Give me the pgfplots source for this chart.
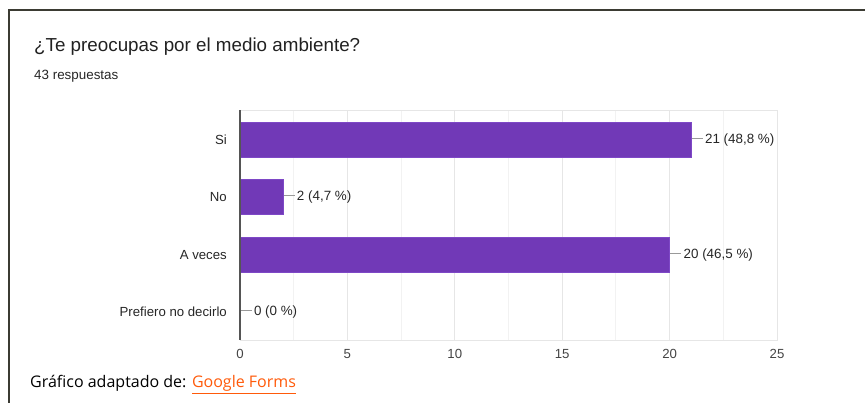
\documentclass[border=0pt]{standalone}
\usepackage{pgfplots}
\pgfplotsset{compat=1.18}
\usepackage{pgfplotstable}
\usepackage{fontspec}
\setmainfont{Liberation Sans}
\newfontfamily\footfont{Open Sans}
\definecolor{barpurple}{HTML}{7139B7}
\definecolor{baredge}{HTML}{7E48C6}
\definecolor{framecol}{HTML}{3B3B33}
\definecolor{gridmajor}{HTML}{E6E6E6}
\definecolor{gridminor}{HTML}{F2F2F2}
\definecolor{axisdark}{HTML}{555555}
\definecolor{ticktext}{HTML}{444444}
\definecolor{connector}{HTML}{999999}
\definecolor{linkorange}{HTML}{FF5A0A}
\pgfplotstableread{
y x label
0 21 {21 (48,8 \%)}
1 2 {2 (4,7 \%)}
2 20 {20 (46,5 \%)}
3 0 {0 (0 \%)}
}\datatable
\begin{document}
\begin{tikzpicture}
\path[use as bounding box] (0pt,0pt) rectangle (865pt,403pt);
\draw[color=framecol, line width=1.4pt] (9pt,0pt) -- (9pt,393pt) -- (866pt,393pt);
\node[anchor=base west, inner sep=0pt, font=\fontsize{18.8}{22}\selectfont, text=black!87] at (34pt,351pt) {¿Te preocupas por el medio ambiente?};
\node[anchor=base west, inner sep=0pt, font=\fontsize{13.4}{16}\selectfont, text=black!85] at (34pt,323pt) {43 respuestas};
\node[anchor=base west, inner sep=0pt, font=\footfont\fontsize{16}{18}\selectfont] at (30pt,15pt) {Gráfico adaptado de: \textcolor{linkorange}{\setlength{\fboxsep}{0pt}\underline{Google Forms}}};
\begin{axis}[
  at={(240pt,63pt)}, anchor=south west, scale only axis,
  width=537pt, height=230pt,
  xbar, bar width=35pt,
  xmin=0, xmax=25, ymin=-0.52, ymax=3.49, y dir=reverse,
  ytick={0,1,2,3}, yticklabels={Si,No,A veces,Prefiero no decirlo},
  xtick={0,5,...,25}, minor xtick={2.5,7.5,...,22.5},
  xmajorgrids, xminorgrids,
  major grid style={draw=gridmajor, line width=0.9pt},
  minor grid style={draw=gridminor, line width=0.9pt},
  axis line style={draw=gridmajor, line width=0.9pt},
  major tick length=0pt, minor tick length=0pt,
  /pgf/number format/assume math mode=true,
  ticklabel style={font=\fontsize{13.2}{15}\selectfont, text=ticktext},
  yticklabel style={inner sep=0pt, anchor=east, xshift=-13pt, text=black!85},
  xticklabel style={inner sep=0pt, anchor=north, yshift=-9pt},
  point meta=explicit symbolic,
  nodes near coords={\textcolor{connector}{\rule[0.33em]{11pt}{0.8pt}}\,\pgfplotspointmeta},
  nodes near coords style={anchor=west, inner sep=0pt, xshift=0.5pt, font=\fontsize{13.4}{15}\selectfont, text=black!85},
  clip=false,
]
\addplot[fill=barpurple, draw=baredge, line width=0.6pt] table[x=x, y=y, meta=label] {\datatable};
\draw[axisdark, line width=1.1pt] (rel axis cs:0,0) -- (rel axis cs:0,1);
\end{axis}
\end{tikzpicture}
\end{document}
